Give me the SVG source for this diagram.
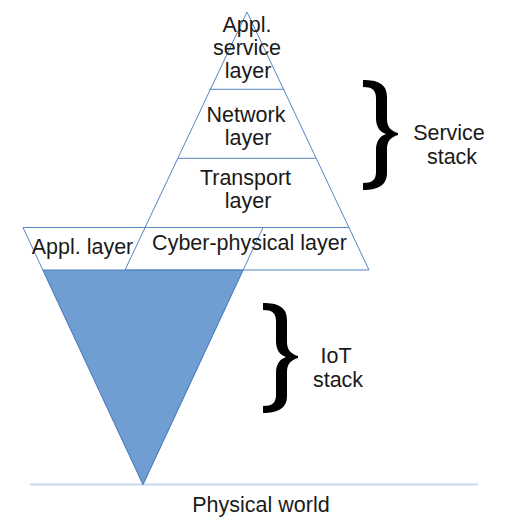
<svg xmlns="http://www.w3.org/2000/svg" xmlns:xlink="http://www.w3.org/1999/xlink" width="508" height="525" viewBox="0 0 508 525">
  <style>
    .t { font-family: "Liberation Sans", Arial, sans-serif; font-size: 21.5px; fill: #1a1a1a; text-anchor: middle; }
    .edge { fill: none; stroke: #5585c5; stroke-width: 1; }
    .brace { fill: #000000; }
  </style>
  <defs>
    <path id="brace" d="M0,0 C15,0 24,4 24,17 L24,39 C24,47 28,51 35,53 L35,55 C28,57 24,61 24,69 L24,93 C24,105 15,110 0,110 L0,103 C9,103 13,100 13,92 L13,70 C13,61 17,56 23,54 C17,52 13,47 13,38 L13,18 C13,10 9,7 0,7 Z"/>
  </defs>
  <rect width="508" height="525" fill="#ffffff"/>

  <g id="ground">
    <line x1="30" y1="484.5" x2="478" y2="484.5" stroke="#c6d9f1" stroke-width="2"/>
    <text class="t" x="261" y="512">Physical world</text>
  </g>

  <g id="iot-stack">
    <polygon points="43,270 243,270 143,484.5" fill="#719ed2" stroke="#4f81bd" stroke-width="1"/>
    <polygon class="edge" points="23,227.5 263,227.5 143,484.5"/>
    <text class="t" x="82.5" y="253.5">Appl. layer</text>
  </g>

  <g id="service-stack">
    <polygon class="edge" points="247,12 369,270 125,270"/>
    <line class="edge" x1="209.5" y1="89.3" x2="284.5" y2="89.3"/>
    <line class="edge" x1="178" y1="158.3" x2="316" y2="158.3"/>
    <line class="edge" x1="145" y1="227.5" x2="349" y2="227.5"/>
    <text class="t" x="247" y="31.5">Appl.</text>
    <text class="t" x="247" y="55">service</text>
    <text class="t" x="248" y="78">layer</text>
    <text class="t" x="246" y="122">Network</text>
    <text class="t" x="248" y="145">layer</text>
    <text class="t" x="245.5" y="185">Transport</text>
    <text class="t" x="248" y="207.5">layer</text>
    <text class="t" x="249.5" y="250">Cyber-physical layer</text>
  </g>

  <g id="service-brace">
    <use xlink:href="#brace" href="#brace" class="brace" x="363" y="80"/>
    <text class="t" x="449" y="140">Service</text>
    <text class="t" x="452" y="164">stack</text>
  </g>

  <g id="iot-brace">
    <use xlink:href="#brace" href="#brace" class="brace" x="263" y="303"/>
    <text class="t" x="336" y="363">IoT</text>
    <text class="t" x="338" y="387">stack</text>
  </g>

  <g id="connectors"></g>
</svg>
